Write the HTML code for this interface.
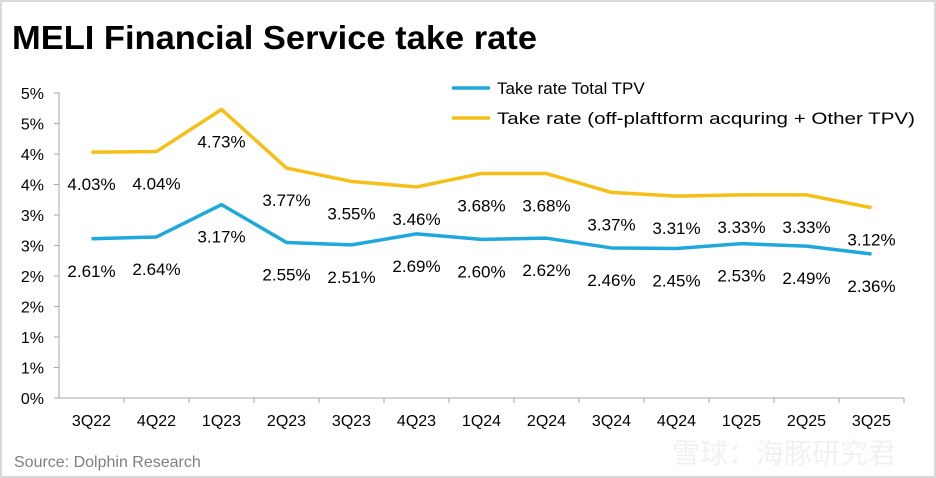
<!DOCTYPE html>
<html><head><meta charset="utf-8"><style>
body{margin:0;background:#fff;}
#wrap{position:relative;width:936px;height:478px;overflow:hidden;font-family:"Liberation Sans","Noto Sans CJK SC",sans-serif;}
</style></head><body>
<div id="wrap">
<svg id="svg" width="936" height="478" xmlns="http://www.w3.org/2000/svg">
<rect x="1" y="1" width="934" height="476" fill="#fff" stroke="#d9d9d9" stroke-width="2"/>
<text x="12" y="49" font-size="33" font-weight="bold" fill="#000" textLength="525" lengthAdjust="spacingAndGlyphs">MELI Financial Service take rate</text>
<text x="14" y="467" font-size="16" fill="#7f7f7f">Source: Dolphin Research</text>
<text x="672" y="463" font-size="28" fill="#f1f1f1">雪球：海豚研究君</text>
<g id="legend">
<line x1="452" y1="88" x2="490" y2="88" stroke="#1fa8dc" stroke-width="3.5"/>
<text x="497" y="94" font-size="17" fill="#000">Take rate Total TPV</text>
<line x1="452" y1="118" x2="490" y2="118" stroke="#f5bf18" stroke-width="3.5"/>
<text x="497" y="124" font-size="17" fill="#000" textLength="418" lengthAdjust="spacingAndGlyphs">Take rate (off-plaftform acquring + Other TPV)</text>
</g>
<g id="axes"></g>
<g id="marks"></g>
</svg>
</div>
<script>
const categories=["3Q22","4Q22","1Q23","2Q23","3Q23","4Q23","1Q24","2Q24","3Q24","4Q24","1Q25","2Q25","3Q25"];
const totalTPV=[2.61,2.64,3.17,2.55,2.51,2.69,2.60,2.62,2.46,2.45,2.53,2.49,2.36];
const offPlatform=[4.03,4.04,4.73,3.77,3.55,3.46,3.68,3.68,3.37,3.31,3.33,3.33,3.12];
const yTicks=[0,0.5,1,1.5,2,2.5,3,3.5,4,4.5,5];
const NS="http://www.w3.org/2000/svg";
const x0=59,x1=904,y0=398,y1=93,yMax=5;
const bw=(x1-x0)/categories.length;
function xs(i){return x0+bw*(i+0.5);}
function ys(v){return y0-(v/yMax)*(y0-y1);}
function mk(tag,attrs,parent){const e=document.createElementNS(NS,tag);for(const k in attrs)e.setAttribute(k,attrs[k]);parent.appendChild(e);return e;}
const axes=document.getElementById('axes'),marks=document.getElementById('marks');
let e=mk('line',{x1:x0,y1:y0,x2:x0,y2:y1,stroke:'#a6a6a6','stroke-width':1},axes);


e=mk('line',{x1:x0,y1:y0,x2:x1,y2:y0,stroke:'#a6a6a6','stroke-width':1},axes);


yTicks.forEach(v=>{
  const y=ys(v);
  let t=mk('line',{x1:x0-5,y1:y,x2:x0,y2:y,stroke:'#a6a6a6'},axes);
  
  
  let l=mk('text',{x:44,y:y+6,'font-size':16,'text-anchor':'end',fill:'#000'},axes);
  l.textContent=Math.round(v)+'%';
  
  
});
categories.forEach((c,i)=>{
  const bx=x0+bw*(i+1);
  let t=mk('line',{x1:bx,y1:y0,x2:bx,y2:y0+5,stroke:'#a6a6a6'},axes);
  
  
  let l=mk('text',{x:xs(i),y:426,'font-size':16,'text-anchor':'middle',fill:'#000'},axes);
  l.textContent=c;
  
  
});
function series(vals,color,name){
  const p=mk('polyline',{points:vals.map((v,i)=>xs(i)+','+ys(v)).join(' '),fill:'none',stroke:color,'stroke-width':3.5,'stroke-linejoin':'round'},marks);
  
  
  vals.forEach((v,i)=>{
    const t=mk('text',{x:xs(i),y:ys(v)+38,'font-size':17,'text-anchor':'middle',fill:'#000'},marks);
    t.textContent=v.toFixed(2)+'%';
    
    
  });
}
series(offPlatform,'#f5bf18','offplatform');
series(totalTPV,'#1fa8dc','total-tpv');
</script>
</body></html>
